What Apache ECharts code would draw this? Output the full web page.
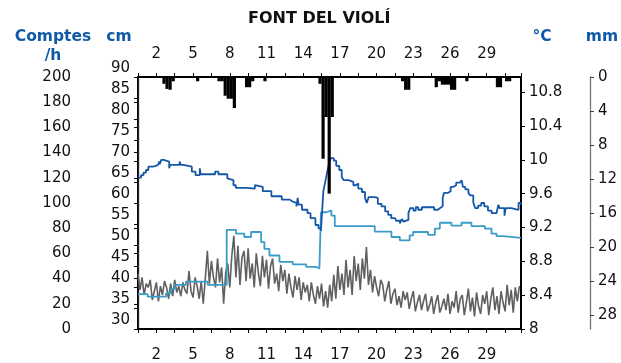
<!DOCTYPE html>
<html>
<head>
<meta charset="utf-8">
<script src="https://cdn.jsdelivr.net/npm/echarts@6/dist/echarts.min.js"></script>
<style>
  html, body { margin: 0; padding: 0; background: #fff; }
  #chart { width: 621px; height: 363px; }
</style>
</head>
<body>
<div id="chart"></div>
<script>
// Days of the month shown on the time axes (label sits at the middle of that day)
const dayLabels = [2, 5, 8, 11, 14, 17, 20, 23, 26, 29];

// Rainfall, 6-hour totals (mm); x = centre of the interval, in days from the 1st 00:00
const rainDay = [2.125, 2.375, 2.625, 2.875, 4.875, 6.625, 6.875, 7.125, 7.375, 7.625, 7.875,
  8.875, 9.125, 9.375, 10.375, 14.875, 15.125, 15.375, 15.625, 15.875, 21.625, 21.875, 22.125,
  24.375, 24.625, 24.875, 25.125, 25.375, 25.625, 25.875, 26.875, 29.375, 29.625, 30.125, 30.375];
const rainMm = [0.8, 1.4, 1.5, 0.5, 0.5, 0.5, 0.5, 2.2, 2.55, 2.55, 3.65,
  1.2, 1.2, 0.5, 0.5, 0.8, 9.6, 4.7, 13.7, 4.7, 0.5, 1.5, 1.5,
  1.2, 0.5, 0.9, 0.9, 0.9, 1.5, 1.5, 0.5, 1.2, 1.2, 0.5, 0.5];

// Water temperature (°C), recorded at each change
const tempDay = [0.00, 0.25, 0.45, 0.65, 0.85, 1.20, 1.50, 1.70, 1.78, 1.90, 2.10, 2.15, 2.30, 2.45,
  2.55, 2.62, 3.40, 3.50, 3.70, 4.40, 4.70, 5.05, 5.12, 6.30, 6.57, 7.30, 7.45, 7.80, 8.00, 8.90,
  8.95, 9.55, 9.65, 10.20, 10.90, 11.75, 12.40, 12.60, 12.95, 13.05, 13.12, 13.40, 13.85, 14.10,
  14.50, 14.75, 14.95, 15.05, 15.15, 15.30, 15.45, 15.60, 15.75, 16.00, 16.20, 16.45, 16.65, 16.80,
  17.20, 17.60, 17.80, 18.00, 18.30, 18.55, 18.70, 18.85, 19.35, 19.60, 19.90, 20.20, 20.45, 20.70,
  21.00, 21.10, 21.40, 21.55, 21.70, 21.85, 22.10, 22.25, 22.50, 22.70, 22.90, 23.20, 24.00, 24.20,
  24.50, 24.70, 24.90, 25.00, 25.35, 25.55, 25.75, 26.00, 26.30, 26.45, 26.55, 26.75, 27.00, 27.15,
  27.40, 27.55, 27.80, 28.05, 28.30, 28.60, 28.90, 29.30, 29.45, 29.55, 29.95, 30.05, 30.50, 31.10,
  31.30];
const tempC = [9.79, 9.82, 9.85, 9.88, 9.92, 9.93, 9.95, 9.98, 9.95, 10.00, 10.02, 9.99, 10.01, 9.98,
  9.90, 9.94, 9.98, 9.94, 9.92, 9.86, 9.82, 9.90, 9.83, 9.86, 9.83, 9.78, 9.76, 9.70, 9.67, 9.69,
  9.66, 9.70, 9.68, 9.63, 9.57, 9.53, 9.51, 9.49, 9.45, 9.55, 9.47, 9.41, 9.37, 9.31,
  9.23, 9.19, 9.16, 9.40, 9.63, 9.74, 9.85, 9.95, 10.02, 9.99, 9.93, 9.88, 9.80, 9.76,
  9.74, 9.70, 9.72, 9.66, 9.62, 9.55, 9.49, 9.56, 9.55, 9.48, 9.45, 9.39, 9.35, 9.31,
  9.33, 9.28, 9.25, 9.30, 9.27, 9.29, 9.37, 9.43, 9.40, 9.44, 9.41, 9.44, 9.44, 9.41,
  9.43, 9.45, 9.55, 9.61, 9.63, 9.68, 9.70, 9.73, 9.72, 9.76, 9.68, 9.65, 9.61, 9.58,
  9.50, 9.43, 9.46, 9.49, 9.45, 9.40, 9.37, 9.37, 9.47, 9.43, 9.34, 9.43, 9.41, 9.49,
  9.47];

// Water level (cm), recorded at each change
const levelDay = [0.00, 0.79, 2.29, 2.70, 2.97, 3.92, 5.70, 7.25, 8.01, 8.69, 9.24, 10.06, 10.33,
  10.74, 11.56, 12.65, 13.74, 14.55, 14.83, 14.95, 15.37, 15.80, 16.08, 19.35, 20.71, 21.40, 22.20,
  22.49, 23.71, 24.26, 24.67, 25.62, 26.44, 27.25, 28.35, 28.89, 29.30, 29.84, 31.30];
const levelCm = [38.3, 37.7, 38.5, 39.5, 40.5, 41.3, 40.5, 53.6, 52.7, 51.9, 53.1, 50.7, 49.1,
  47.5, 46.0, 45.4, 44.8, 44.4, 45.0, 57.8, 58.2, 57.0, 54.5, 53.2, 51.9, 51.1, 52.3,
  53.1, 52.4, 53.9, 55.3, 54.6, 55.3, 54.5, 53.9, 52.7, 52.1, 51.7, 51.7];

// Counts per hour, one reading every 4 hours from the 1st 00:00 (one row = one day)
const countsStep = 1 / 6;
const countsPerH = [
  44, 31, 41, 27, 36, 33,
  39, 23, 30, 37, 22, 34,
  27, 38, 33, 24, 36, 26,
  39, 29, 34, 26, 37, 31,
  28, 46, 30, 25, 41, 34,
  24, 38, 20, 40, 62, 36,
  54, 41, 33, 56, 37, 49,
  20, 45, 52, 33, 58, 74,
  41, 66, 35, 57, 62, 38,
  64, 40, 52, 33, 60, 45,
  34, 58, 41, 55, 32, 50,
  56, 36, 44, 30, 51, 38,
  47, 28, 44, 33, 25, 42,
  31, 41, 23, 37, 29, 35,
  22, 37, 27, 20, 34, 24,
  36, 18, 30, 17, 35, 22,
  43, 24, 50, 31, 44, 27,
  55, 33, 47, 27, 58, 38,
  52, 31, 56, 40, 65, 35,
  47, 29, 42, 33, 26, 39,
  35, 22, 31, 38, 20, 28,
  32, 19, 26, 17, 30, 23,
  29, 16, 24, 30, 14, 21,
  27, 15, 22, 28, 14, 19,
  26, 12, 21, 27, 13, 18,
  24, 15, 28, 12, 22, 17,
  30, 13, 24, 27, 11, 21,
  32, 14, 25, 10, 29, 18,
  12, 27, 20, 30, 11, 24,
  33, 15, 26, 12, 30, 21,
  14, 35, 19, 31, 13, 33,
  22, 34
];

const FONT = 'DejaVu Sans';
const BLUE_TITLE = '#0f5aa8';

function pairs(xs, ys) { return xs.map((x, i) => [x, ys[i]]); }

function dayFormatter(v) {
  for (const d of dayLabels) {
    if (Math.abs(v - (d - 0.5)) < 1e-6) return String(d);
  }
  return '';
}

const tickLabel = { fontFamily: FONT, fontSize: 15, color: '#111' };

function timeAxis(pos, margin) {
  return {
    type: 'value', position: pos, min: 0, max: 31.3, interval: 1.5,
    axisLine: { show: true, lineStyle: { color: '#000', width: 2 } },
    axisTick: { show: true, length: 4, lineStyle: { color: '#000', width: 1 } },
    axisLabel: Object.assign({ margin: margin, formatter: dayFormatter, hideOverlap: false }, tickLabel),
    splitLine: { show: false }
  };
}

function valueAxis(pos, offset, min, max, interval, extra) {
  return Object.assign({
    type: 'value', position: pos, offset: offset, min: min, max: max, interval: interval,
    axisLine: { show: true, lineStyle: { color: '#000', width: 2 } },
    axisTick: { show: true, length: 4, lineStyle: { color: '#000', width: 1 } },
    axisLabel: Object.assign({ margin: 8 }, tickLabel),
    splitLine: { show: false }
  }, extra || {});
}

const chart = echarts.init(document.getElementById('chart'), null, { renderer: 'canvas' });

chart.setOption({
  animation: false,
  backgroundColor: '#fff',
  grid: { left: 138, right: 100, top: 77, bottom: 32, containLabel: false },
  xAxis: [timeAxis('bottom', 19), timeAxis('top', 15)],
  yAxis: [
    // level scale: its numbers sit just above their ticks
    valueAxis('left', 0, 30, 90, 5, {
      axisLabel: Object.assign({
        margin: 8, verticalAlign: 'bottom', lineHeight: 17,
        showMinLabel: true, showMaxLabel: true
      }, tickLabel)
    }),
    valueAxis('left', 59, 0, 200, 20, {
      axisLine: { show: true, lineStyle: { color: '#222', width: 1.3 } }
    }),
    valueAxis('right', 0, 8, 10.98, 0.4, {
      axisLabel: Object.assign({ margin: 8, showMaxLabel: false }, tickLabel)
    }),
    valueAxis('right', 69, 0, 29.6, 4, {
      inverse: true,
      axisLine: { show: true, lineStyle: { color: '#777', width: 1.3 } },
      axisTick: { show: true, length: 4, lineStyle: { color: '#444', width: 1 } },
      axisLabel: Object.assign({ margin: 8, showMaxLabel: false }, tickLabel)
    })
  ],
  graphic: [
    { type: 'text', left: 248, top: 11, style: { text: 'FONT DEL VIOLÍ', font: 'bold 16px "DejaVu Sans"', fill: '#111' } },
    { type: 'text', x: 53, y: 37, style: { text: 'Comptes', font: 'bold 15.5px "DejaVu Sans"', fill: BLUE_TITLE, align: 'center', verticalAlign: 'middle' } },
    { type: 'text', x: 53, y: 56, style: { text: '/h', font: 'bold 15.5px "DejaVu Sans"', fill: BLUE_TITLE, align: 'center', verticalAlign: 'middle' } },
    { type: 'text', x: 119, y: 37, style: { text: 'cm', font: 'bold 15.5px "DejaVu Sans"', fill: BLUE_TITLE, align: 'center', verticalAlign: 'middle' } },
    { type: 'text', x: 542, y: 37, style: { text: '°C', font: 'bold 15.5px "DejaVu Sans"', fill: BLUE_TITLE, align: 'center', verticalAlign: 'middle' } },
    { type: 'text', x: 602, y: 37, style: { text: 'mm', font: 'bold 15.5px "DejaVu Sans"', fill: BLUE_TITLE, align: 'center', verticalAlign: 'middle' } }
  ],
  series: [
    {
      name: 'Comptes/h', type: 'line', xAxisIndex: 0, yAxisIndex: 1,
      data: countsPerH.map((v, i) => [i * countsStep, v]),
      showSymbol: false, sampling: null,
      lineStyle: { color: '#606060', width: 1.6 }, z: 2
    },
    {
      name: 'cm', type: 'line', xAxisIndex: 0, yAxisIndex: 0, step: 'end',
      data: pairs(levelDay, levelCm),
      showSymbol: false,
      lineStyle: { color: '#3a9cc8', width: 1.8 }, z: 3
    },
    {
      name: '°C', type: 'line', xAxisIndex: 0, yAxisIndex: 2, step: 'end',
      data: pairs(tempDay, tempC),
      showSymbol: false,
      lineStyle: { color: '#1457a8', width: 1.8 }, z: 4
    },
    {
      name: 'mm', type: 'bar', xAxisIndex: 0, yAxisIndex: 3,
      data: pairs(rainDay, rainMm),
      barWidth: 3.2,
      itemStyle: { color: '#000' }, z: 5
    }
  ]
});
</script>
</body>
</html>
